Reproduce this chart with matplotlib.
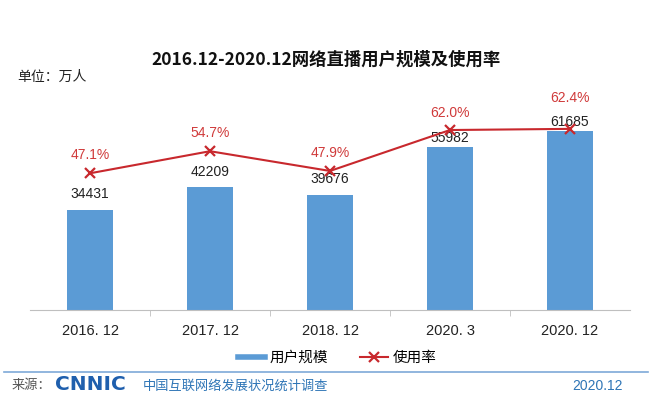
import matplotlib
matplotlib.use("Agg")
import matplotlib.pyplot as plt
from matplotlib.lines import Line2D

# data
periods = ["2016. 12", "2017. 12", "2018. 12", "2020. 3", "2020. 12"]
users = [34431, 42209, 39676, 55982, 61685]        # 万人
usage_rate = [47.1, 54.7, 47.9, 62.0, 62.4]        # %

CJK = ["Noto Sans CJK SC", "DejaVu Sans"]
LAT = ["Liberation Sans", "Noto Sans CJK SC"]
BLUE = "#5B9BD5"
RED = "#C8282D"

W, H = 672, 396

# label offsets in points (the last ones are nudged like in the original)
bar_label_off = [11.5, 11.5, 11.5, 6.5, 6.5]
rate_label_off = [13, 13, 13, 12.5, 22]


def fx(px):
    return px / W


def fy(py):
    return 1 - py / H


fig = plt.figure(figsize=(6.72, 3.96), dpi=100)
fig.patch.set_facecolor("white")

ax = fig.add_axes([fx(30), fy(310), fx(630) - fx(30), fy(101) - fy(310)])
ax.patch.set_alpha(0)
x = list(range(len(periods)))
ax.bar(x, users, width=0.39, color=BLUE, zorder=2)
ax.set_xlim(-0.5, len(periods) - 0.5)
ax.set_ylim(0, 72000)

for s in ["top", "right", "left"]:
    ax.spines[s].set_visible(False)
ax.spines["bottom"].set_color("#BFBFBF")
ax.set_yticks([])
ax.set_xticks(x)
ax.set_xticklabels(periods, family=LAT, fontsize=10.5, color="#222222")
ax.tick_params(axis="x", which="major", length=0, pad=10)
ax.set_xticks([i + 0.5 for i in x[:-1]], minor=True)
ax.tick_params(axis="x", which="minor", length=4, color="#BFBFBF")

for xi, v, off in zip(x, users, bar_label_off):
    ax.annotate(str(v), (xi, v), xytext=(0, off), textcoords="offset points",
                ha="center", va="center", fontsize=10, family=LAT,
                color="#222222", zorder=4)

ax2 = ax.twinx()
ax2.set_ylim(0, 72)
ax2.axis("off")
ax2.plot(x, usage_rate, color=RED, lw=1.5, marker="x", ms=7, mew=1.6, zorder=3)
for xi, v, off in zip(x, usage_rate, rate_label_off):
    ax2.annotate(f"{v:.1f}%", (xi, v), xytext=(0, off), textcoords="offset points",
                 ha="center", va="center", fontsize=10, family=LAT, color="#D03A3A")

# title and unit
fig.text(fx(326), fy(60), "2016.12-2020.12网络直播用户规模及使用率", family=CJK,
         fontsize=12.5, fontweight="bold", ha="center", va="center", color="#111111")
fig.text(fx(17), fy(77), "单位：万人", family=CJK, fontsize=10, ha="left",
         va="center", color="#222222")

# legend
handles = [Line2D([], [], color=BLUE, lw=4),
           Line2D([], [], color=RED, lw=1.5, marker="x", ms=7, mew=1.6)]
fig.legend(handles, ["用户规模", "使用率"], loc="center", ncol=2,
           bbox_to_anchor=(fx(337), fy(358)), frameon=False,
           prop={"family": CJK, "size": 10.5}, handlelength=1.9,
           handletextpad=0.3, columnspacing=2.2)

# source footer
fig.add_artist(Line2D([fx(4), fx(648)], [fy(372), fy(372)], color="#7EA9D8", lw=1.2))
fig.text(fx(12), fy(386), "来源：", family=CJK, fontsize=9.5, color="#555555",
         ha="left", va="center")
fig.text(fx(55), fy(384), "CNNIC", family="DejaVu Sans", fontsize=14.5,
         fontweight="heavy", color="#1F5FAD", ha="left", va="center")
fig.text(fx(143), fy(386), "中国互联网络发展状况统计调查", family=CJK, fontsize=9.5,
         color="#2E75B6", ha="left", va="center")
fig.text(fx(572), fy(386), "2020.12", family=LAT, fontsize=10, color="#2E75B6",
         ha="left", va="center")

fig.savefig("out.png", dpi=100)
